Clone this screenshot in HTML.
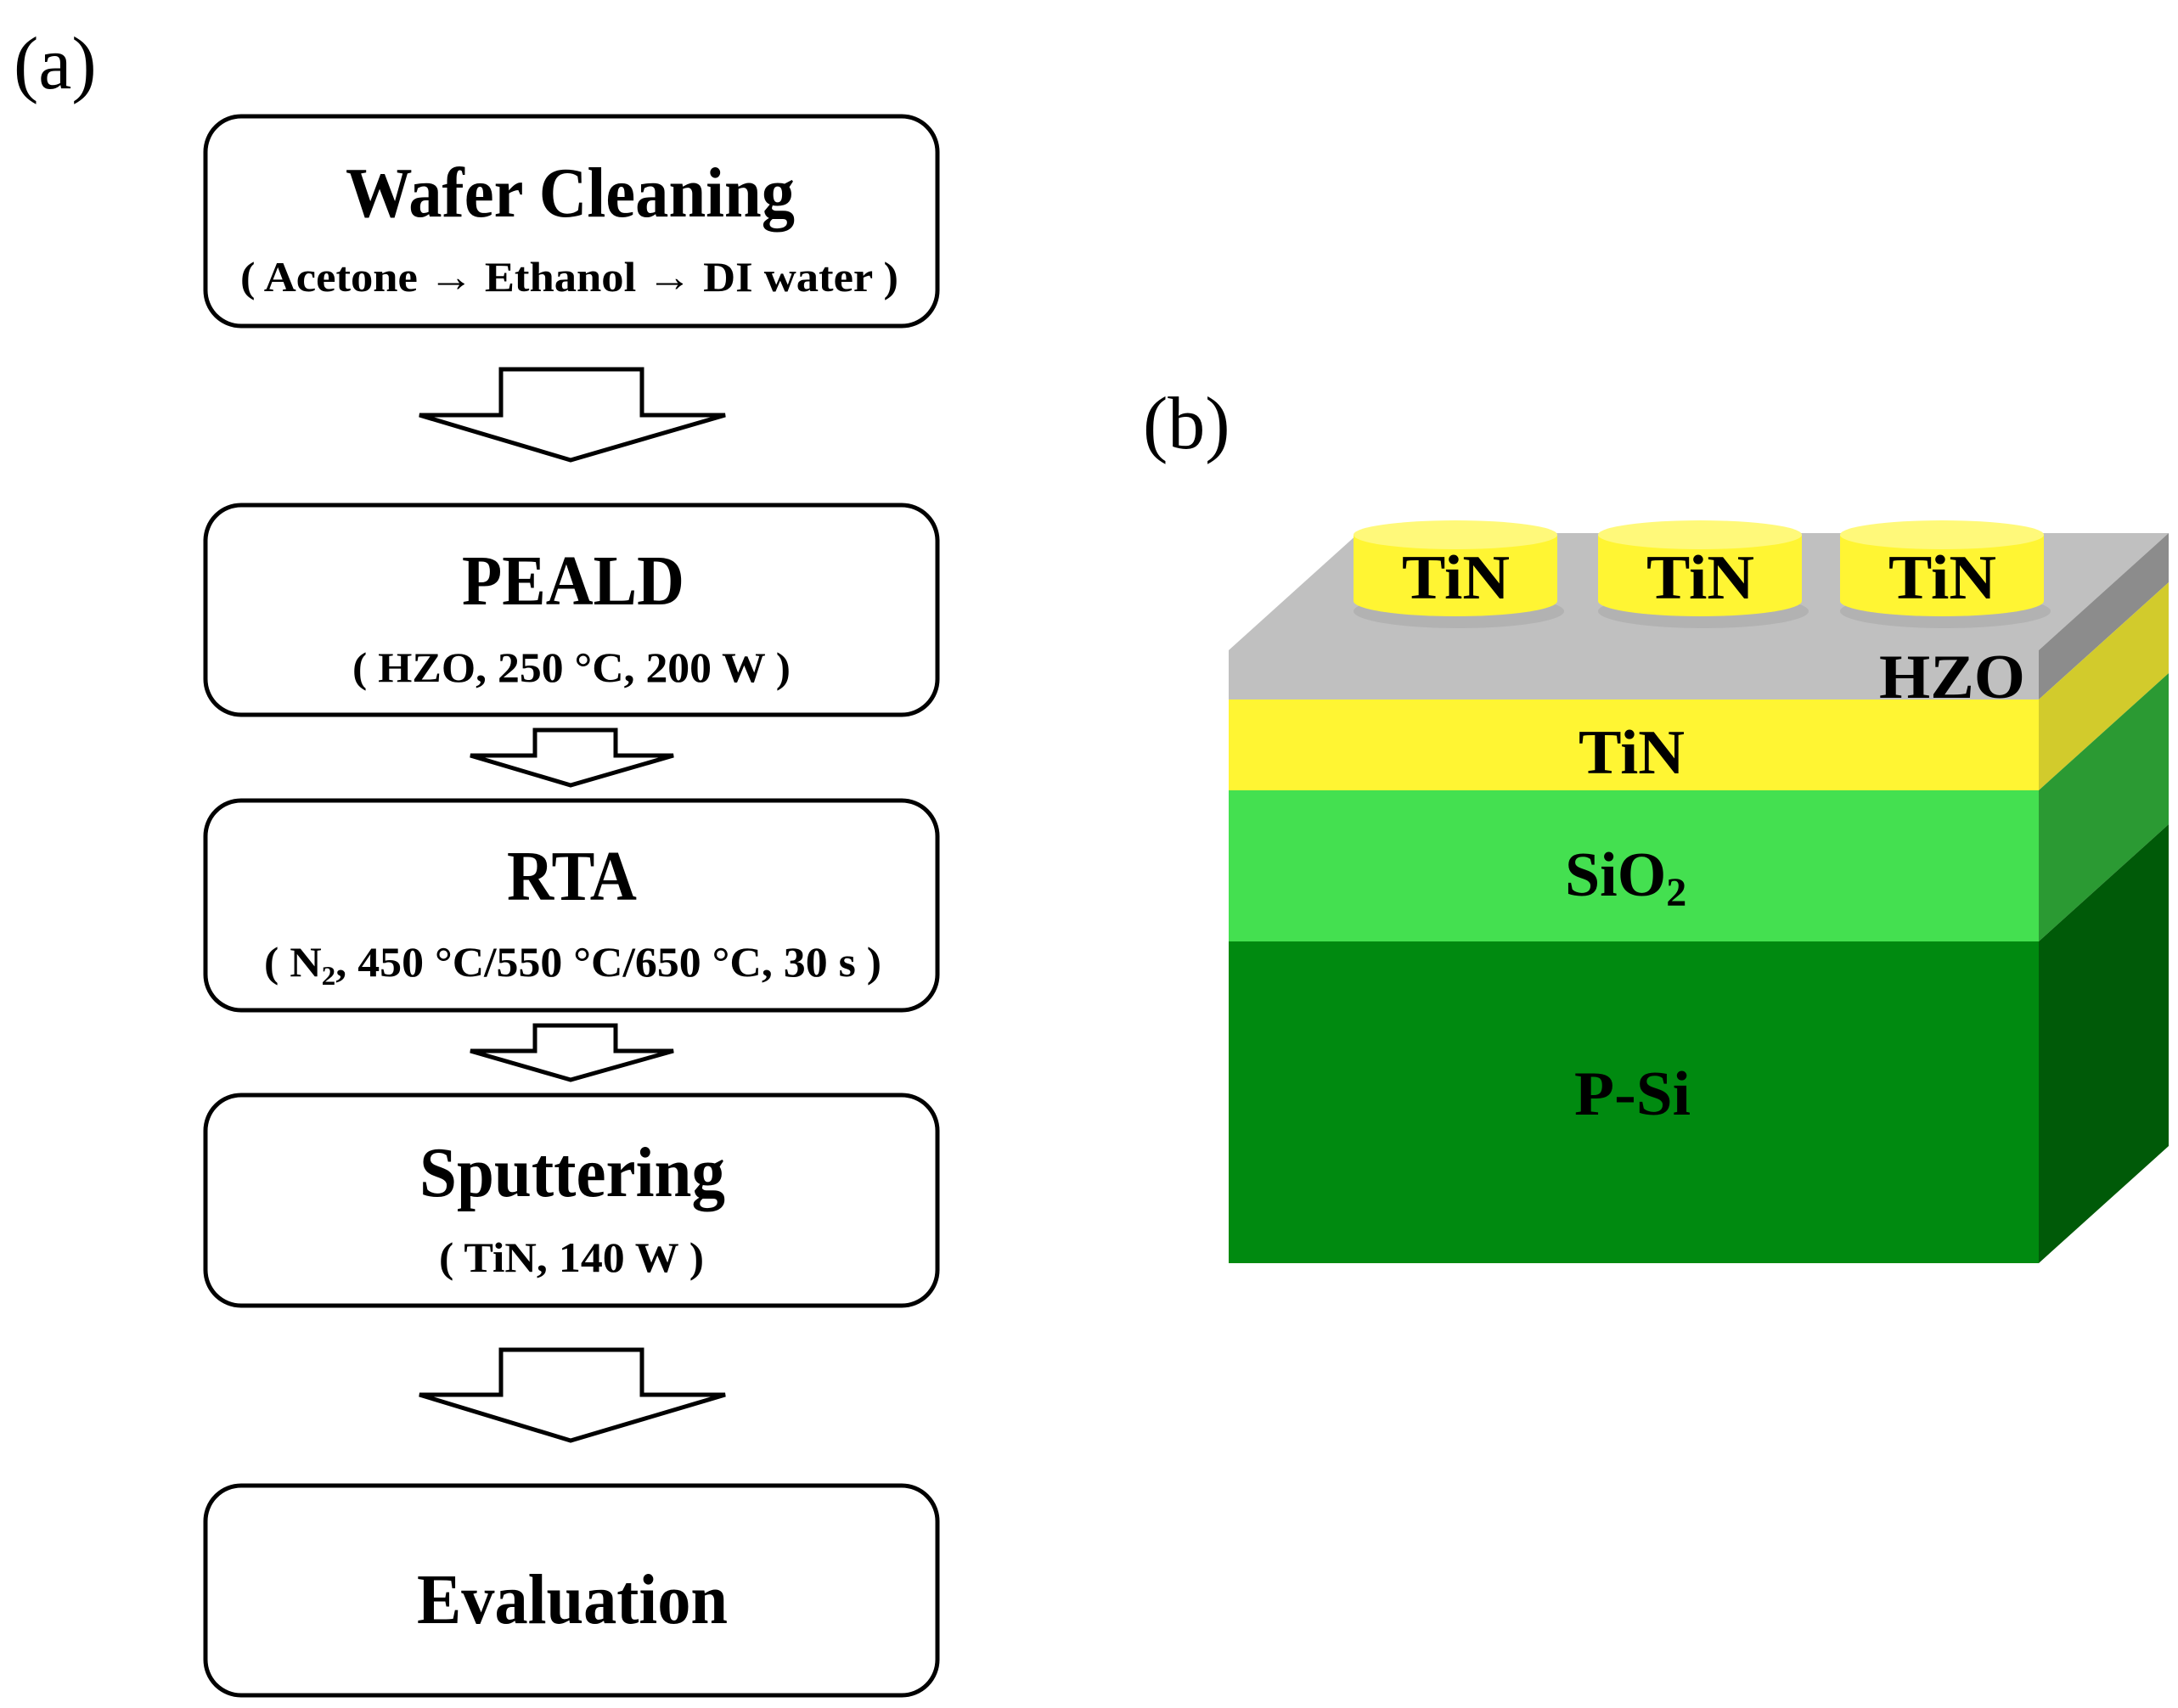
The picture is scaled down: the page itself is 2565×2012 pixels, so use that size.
<!DOCTYPE html>
<html><head><meta charset="utf-8"><style>html,body{margin:0;padding:0;background:#fff}svg{display:block}</style></head>
<body>
<svg width="2565" height="2012" viewBox="0 0 2565 2012" xmlns="http://www.w3.org/2000/svg" font-family="Liberation Serif, serif">
<rect width="2565" height="2012" fill="#fff"/>
<text x="16" y="104" font-size="88">(a)</text>
<text x="1346" y="528" font-size="88">(b)</text>
<g fill="#fff" stroke="#000" stroke-width="5">
<rect x="242" y="137" width="862" height="247" rx="42"/>
<rect x="242" y="595" width="862" height="247" rx="42"/>
<rect x="242" y="943" width="862" height="247" rx="42"/>
<rect x="242" y="1290" width="862" height="248" rx="42"/>
<rect x="242" y="1750" width="862" height="247" rx="42"/>
<polygon points="590,435 756,435 756,489 854,489 672,542 494,489 590,489"/>
<polygon points="630,860 725,860 725,890 793,890 672,925 554,890 630,890"/>
<polygon points="630,1208 725,1208 725,1238 793,1238 672,1272 554,1238 630,1238"/>
<polygon points="590,1590 756,1590 756,1643 854,1643 672,1697 494,1643 590,1643"/>
</g>
<g font-weight="bold" fill="#000">
<text x="407" y="255" font-size="84" textLength="529" lengthAdjust="spacingAndGlyphs">Wafer Cleaning</text>
<text x="283" y="343" font-size="50" textLength="775" lengthAdjust="spacingAndGlyphs">( Acetone → Ethanol → DI water )</text>
<text x="544" y="712" font-size="84" textLength="262" lengthAdjust="spacingAndGlyphs">PEALD</text>
<text x="415" y="803" font-size="50" textLength="516" lengthAdjust="spacingAndGlyphs">( HZO, 250 °C, 200 W )</text>
<text x="597" y="1060" font-size="84" textLength="153" lengthAdjust="spacingAndGlyphs">RTA</text>
<text x="311" y="1150" font-size="50" textLength="727" lengthAdjust="spacingAndGlyphs">( N<tspan font-size="32" dy="10">2</tspan><tspan dy="-10">, 450 °C/550 °C/650 °C, 30 s )</tspan></text>
<text x="494" y="1409" font-size="84" textLength="360" lengthAdjust="spacingAndGlyphs">Sputtering</text>
<text x="517" y="1498" font-size="50" textLength="312" lengthAdjust="spacingAndGlyphs">( TiN, 140 W )</text>
<text x="491" y="1912" font-size="84" textLength="366" lengthAdjust="spacingAndGlyphs">Evaluation</text>
</g>
<polygon points="1447,766 1600,628 2554,628 2401,766" fill="#c0c0c0"/>
<rect x="1447" y="766" width="954" height="58" fill="#c0c0c0"/>
<rect x="1447" y="824" width="954" height="107" fill="#fff533"/>
<rect x="1447" y="931" width="954" height="178" fill="#44e050"/>
<rect x="1447" y="1109" width="954" height="379" fill="#008a10"/>
<polygon points="2401,766 2554,628 2554,686 2401,824" fill="#8c8c8c"/>
<polygon points="2401,824 2554,686 2554,793 2401,931" fill="#d2cb2c"/>
<polygon points="2401,931 2554,793 2554,971 2401,1109" fill="#2b9a33"/>
<polygon points="2401,1109 2554,971 2554,1350 2401,1488" fill="#005a08"/>
<g>
<g transform="translate(1714,0)">
<ellipse cx="4" cy="720" rx="124" ry="20" fill="#999" opacity="0.35"/>
<path d="M-120,630 L-120,708 A120,18 0 0 0 120,708 L120,630 Z" fill="#fff533"/>
<ellipse cx="0" cy="630" rx="120" ry="17" fill="#fff97a"/>
</g>
<g transform="translate(2002,0)">
<ellipse cx="4" cy="720" rx="124" ry="20" fill="#999" opacity="0.35"/>
<path d="M-120,630 L-120,708 A120,18 0 0 0 120,708 L120,630 Z" fill="#fff533"/>
<ellipse cx="0" cy="630" rx="120" ry="17" fill="#fff97a"/>
</g>
<g transform="translate(2287,0)">
<ellipse cx="4" cy="720" rx="124" ry="20" fill="#999" opacity="0.35"/>
<path d="M-120,630 L-120,708 A120,18 0 0 0 120,708 L120,630 Z" fill="#fff533"/>
<ellipse cx="0" cy="630" rx="120" ry="17" fill="#fff97a"/>
</g>
</g>
<g font-weight="bold" fill="#000" font-size="74">
<text x="1651" y="705" textLength="127" lengthAdjust="spacingAndGlyphs">TiN</text>
<text x="1939" y="705" textLength="127" lengthAdjust="spacingAndGlyphs">TiN</text>
<text x="2224" y="705" textLength="127" lengthAdjust="spacingAndGlyphs">TiN</text>
<text x="2213" y="822" textLength="172" lengthAdjust="spacingAndGlyphs">HZO</text>
<text x="1859" y="911" textLength="125" lengthAdjust="spacingAndGlyphs">TiN</text>
<text x="1843" y="1055">SiO<tspan font-size="48" dy="12">2</tspan></text>
<text x="1854" y="1313" textLength="137" lengthAdjust="spacingAndGlyphs">P-Si</text>
</g>
</svg>
</body></html>
